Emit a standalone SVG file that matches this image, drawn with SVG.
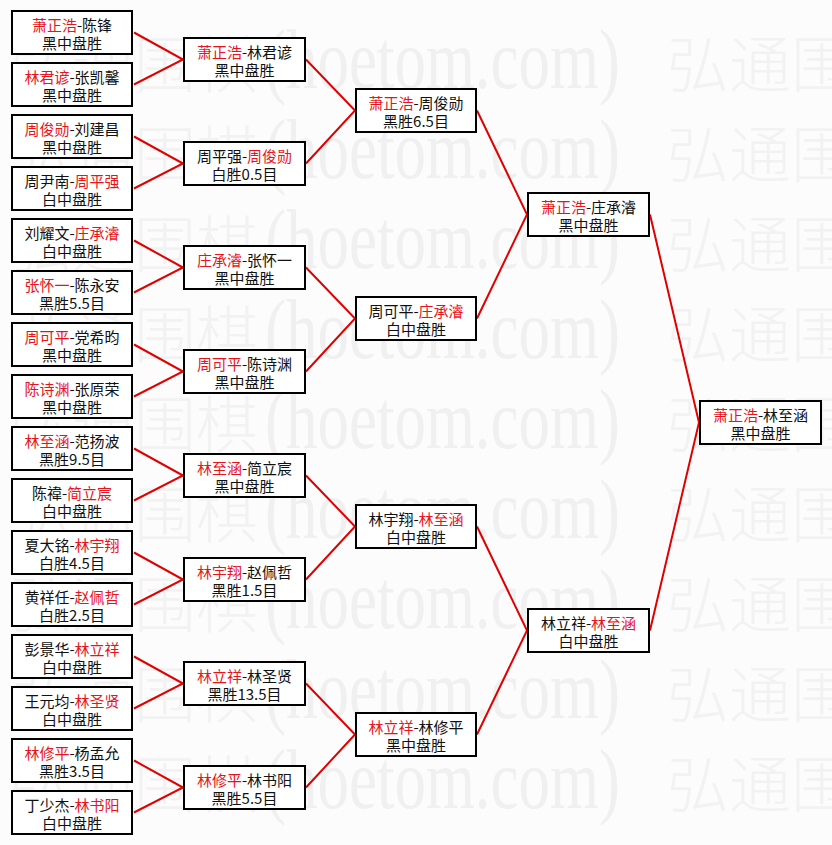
<svg xmlns="http://www.w3.org/2000/svg" xmlns:xlink="http://www.w3.org/1999/xlink" width="832" height="845" viewBox="0 0 832 845">
<style>
.bg{fill:#fcfcfc}
.wmc{font-family:"Noto Sans CJK SC",sans-serif;font-size:62px;font-weight:300;fill:#f2f2f2}
.wml{font-family:"Liberation Serif","Noto Sans CJK SC",serif;font-size:60px;fill:#f0f0f0}
.box{fill:#ffffff;stroke:#000000;stroke-width:2}
.t{font-family:"Noto Sans CJK SC",sans-serif;font-size:15px;fill:#111111;text-anchor:middle}
.w{fill:#e8141c}
.con{fill:none;stroke:#e00000;stroke-width:2}
</style>
<defs>
<g id="wmrow">
<text class="wmc" x="10" y="0">弘通围棋</text>
<text class="wml" transform="translate(265,0) scale(1,1.4)" x="0" y="0" textLength="355" lengthAdjust="spacingAndGlyphs">(hoetom.com)</text>
<text class="wmc" x="667" y="0">弘通围棋</text>
</g>
</defs>
<rect class="bg" x="0" y="0" width="832" height="845"/>
<g id="watermark">
<use xlink:href="#wmrow" x="0" y="88"/>
<use xlink:href="#wmrow" x="0" y="178"/>
<use xlink:href="#wmrow" x="0" y="268"/>
<use xlink:href="#wmrow" x="0" y="358"/>
<use xlink:href="#wmrow" x="0" y="448"/>
<use xlink:href="#wmrow" x="0" y="538"/>
<use xlink:href="#wmrow" x="0" y="628"/>
<use xlink:href="#wmrow" x="0" y="718"/>
<use xlink:href="#wmrow" x="0" y="808"/>
</g>
<g id="connectors">
<polyline class="con" points="134,32.5 183,59.5 134,84.5"/>
<polyline class="con" points="134,136.5 183,163.5 134,188.5"/>
<polyline class="con" points="134,240.5 183,267.5 134,292.5"/>
<polyline class="con" points="134,344.5 183,371.5 134,396.5"/>
<polyline class="con" points="134,448.5 183,475.5 134,500.5"/>
<polyline class="con" points="134,552.5 183,579.5 134,604.5"/>
<polyline class="con" points="134,656.5 183,683.5 134,708.5"/>
<polyline class="con" points="134,760.5 183,787.5 134,812.5"/>
<polyline class="con" points="306,59.5 355,110.5 306,163.5"/>
<polyline class="con" points="306,267.5 355,318.5 306,371.5"/>
<polyline class="con" points="306,475.5 355,526.5 306,579.5"/>
<polyline class="con" points="306,683.5 355,734.5 306,787.5"/>
<polyline class="con" points="477,110.5 527,214.5 477,318.5"/>
<polyline class="con" points="477,526.5 527,630.5 477,734.5"/>
<polyline class="con" points="650,214.5 699,422.5 650,630.5"/>
</g>
<g id="r1-1"><rect class="box" x="12" y="11" width="120" height="43"/><text class="t" x="72" y="31"><tspan class="w">萧正浩</tspan>-陈锋</text><text class="t" x="72" y="49">黑中盘胜</text></g>
<g id="r1-2"><rect class="box" x="12" y="63" width="120" height="43"/><text class="t" x="72" y="83"><tspan class="w">林君谚</tspan>-张凯馨</text><text class="t" x="72" y="101">黑中盘胜</text></g>
<g id="r1-3"><rect class="box" x="12" y="115" width="120" height="43"/><text class="t" x="72" y="135"><tspan class="w">周俊勋</tspan>-刘建昌</text><text class="t" x="72" y="153">黑中盘胜</text></g>
<g id="r1-4"><rect class="box" x="12" y="167" width="120" height="43"/><text class="t" x="72" y="187">周尹南-<tspan class="w">周平强</tspan></text><text class="t" x="72" y="205">白中盘胜</text></g>
<g id="r1-5"><rect class="box" x="12" y="219" width="120" height="43"/><text class="t" x="72" y="239">刘耀文-<tspan class="w">庄承濬</tspan></text><text class="t" x="72" y="257">白中盘胜</text></g>
<g id="r1-6"><rect class="box" x="12" y="271" width="120" height="43"/><text class="t" x="72" y="291"><tspan class="w">张怀一</tspan>-陈永安</text><text class="t" x="72" y="309">黑胜5.5目</text></g>
<g id="r1-7"><rect class="box" x="12" y="323" width="120" height="43"/><text class="t" x="72" y="343"><tspan class="w">周可平</tspan>-党希昀</text><text class="t" x="72" y="361">黑中盘胜</text></g>
<g id="r1-8"><rect class="box" x="12" y="375" width="120" height="43"/><text class="t" x="72" y="395"><tspan class="w">陈诗渊</tspan>-张原荣</text><text class="t" x="72" y="413">黑中盘胜</text></g>
<g id="r1-9"><rect class="box" x="12" y="427" width="120" height="43"/><text class="t" x="72" y="447"><tspan class="w">林至涵</tspan>-范扬波</text><text class="t" x="72" y="465">黑胜9.5目</text></g>
<g id="r1-10"><rect class="box" x="12" y="479" width="120" height="43"/><text class="t" x="72" y="499">陈禕-<tspan class="w">简立宸</tspan></text><text class="t" x="72" y="517">白中盘胜</text></g>
<g id="r1-11"><rect class="box" x="12" y="531" width="120" height="43"/><text class="t" x="72" y="551">夏大铭-<tspan class="w">林宇翔</tspan></text><text class="t" x="72" y="569">白胜4.5目</text></g>
<g id="r1-12"><rect class="box" x="12" y="583" width="120" height="43"/><text class="t" x="72" y="603">黄祥任-<tspan class="w">赵佩哲</tspan></text><text class="t" x="72" y="621">白胜2.5目</text></g>
<g id="r1-13"><rect class="box" x="12" y="635" width="120" height="43"/><text class="t" x="72" y="655">彭景华-<tspan class="w">林立祥</tspan></text><text class="t" x="72" y="673">白中盘胜</text></g>
<g id="r1-14"><rect class="box" x="12" y="687" width="120" height="43"/><text class="t" x="72" y="707">王元均-<tspan class="w">林圣贤</tspan></text><text class="t" x="72" y="725">白中盘胜</text></g>
<g id="r1-15"><rect class="box" x="12" y="739" width="120" height="43"/><text class="t" x="72" y="759"><tspan class="w">林修平</tspan>-杨孟允</text><text class="t" x="72" y="777">黑胜3.5目</text></g>
<g id="r1-16"><rect class="box" x="12" y="791" width="120" height="43"/><text class="t" x="72" y="811">丁少杰-<tspan class="w">林书阳</tspan></text><text class="t" x="72" y="829">白中盘胜</text></g>
<g id="r2-1"><rect class="box" x="184" y="38" width="121" height="43"/><text class="t" x="244.5" y="58"><tspan class="w">萧正浩</tspan>-林君谚</text><text class="t" x="244.5" y="76">黑中盘胜</text></g>
<g id="r2-2"><rect class="box" x="184" y="142" width="121" height="43"/><text class="t" x="244.5" y="162">周平强-<tspan class="w">周俊勋</tspan></text><text class="t" x="244.5" y="180">白胜0.5目</text></g>
<g id="r2-3"><rect class="box" x="184" y="246" width="121" height="43"/><text class="t" x="244.5" y="266"><tspan class="w">庄承濬</tspan>-张怀一</text><text class="t" x="244.5" y="284">黑中盘胜</text></g>
<g id="r2-4"><rect class="box" x="184" y="350" width="121" height="43"/><text class="t" x="244.5" y="370"><tspan class="w">周可平</tspan>-陈诗渊</text><text class="t" x="244.5" y="388">黑中盘胜</text></g>
<g id="r2-5"><rect class="box" x="184" y="454" width="121" height="43"/><text class="t" x="244.5" y="474"><tspan class="w">林至涵</tspan>-简立宸</text><text class="t" x="244.5" y="492">黑中盘胜</text></g>
<g id="r2-6"><rect class="box" x="184" y="558" width="121" height="43"/><text class="t" x="244.5" y="578"><tspan class="w">林宇翔</tspan>-赵佩哲</text><text class="t" x="244.5" y="596">黑胜1.5目</text></g>
<g id="r2-7"><rect class="box" x="184" y="662" width="121" height="43"/><text class="t" x="244.5" y="682"><tspan class="w">林立祥</tspan>-林圣贤</text><text class="t" x="244.5" y="700">黑胜13.5目</text></g>
<g id="r2-8"><rect class="box" x="184" y="766" width="121" height="43"/><text class="t" x="244.5" y="786"><tspan class="w">林修平</tspan>-林书阳</text><text class="t" x="244.5" y="804">黑胜5.5目</text></g>
<g id="r3-1"><rect class="box" x="356" y="89" width="120" height="43"/><text class="t" x="416" y="109"><tspan class="w">萧正浩</tspan>-周俊勋</text><text class="t" x="416" y="127">黑胜6.5目</text></g>
<g id="r3-2"><rect class="box" x="356" y="297" width="120" height="43"/><text class="t" x="416" y="317">周可平-<tspan class="w">庄承濬</tspan></text><text class="t" x="416" y="335">白中盘胜</text></g>
<g id="r3-3"><rect class="box" x="356" y="505" width="120" height="43"/><text class="t" x="416" y="525">林宇翔-<tspan class="w">林至涵</tspan></text><text class="t" x="416" y="543">白中盘胜</text></g>
<g id="r3-4"><rect class="box" x="356" y="713" width="120" height="43"/><text class="t" x="416" y="733"><tspan class="w">林立祥</tspan>-林修平</text><text class="t" x="416" y="751">黑中盘胜</text></g>
<g id="r4-1"><rect class="box" x="528" y="193" width="121" height="43"/><text class="t" x="588.5" y="213"><tspan class="w">萧正浩</tspan>-庄承濬</text><text class="t" x="588.5" y="231">黑中盘胜</text></g>
<g id="r4-2"><rect class="box" x="528" y="609" width="121" height="43"/><text class="t" x="588.5" y="629">林立祥-<tspan class="w">林至涵</tspan></text><text class="t" x="588.5" y="647">白中盘胜</text></g>
<g id="final"><rect class="box" x="700" y="401" width="121" height="43"/><text class="t" x="760.5" y="421"><tspan class="w">萧正浩</tspan>-林至涵</text><text class="t" x="760.5" y="439">黑中盘胜</text></g>
</svg>
